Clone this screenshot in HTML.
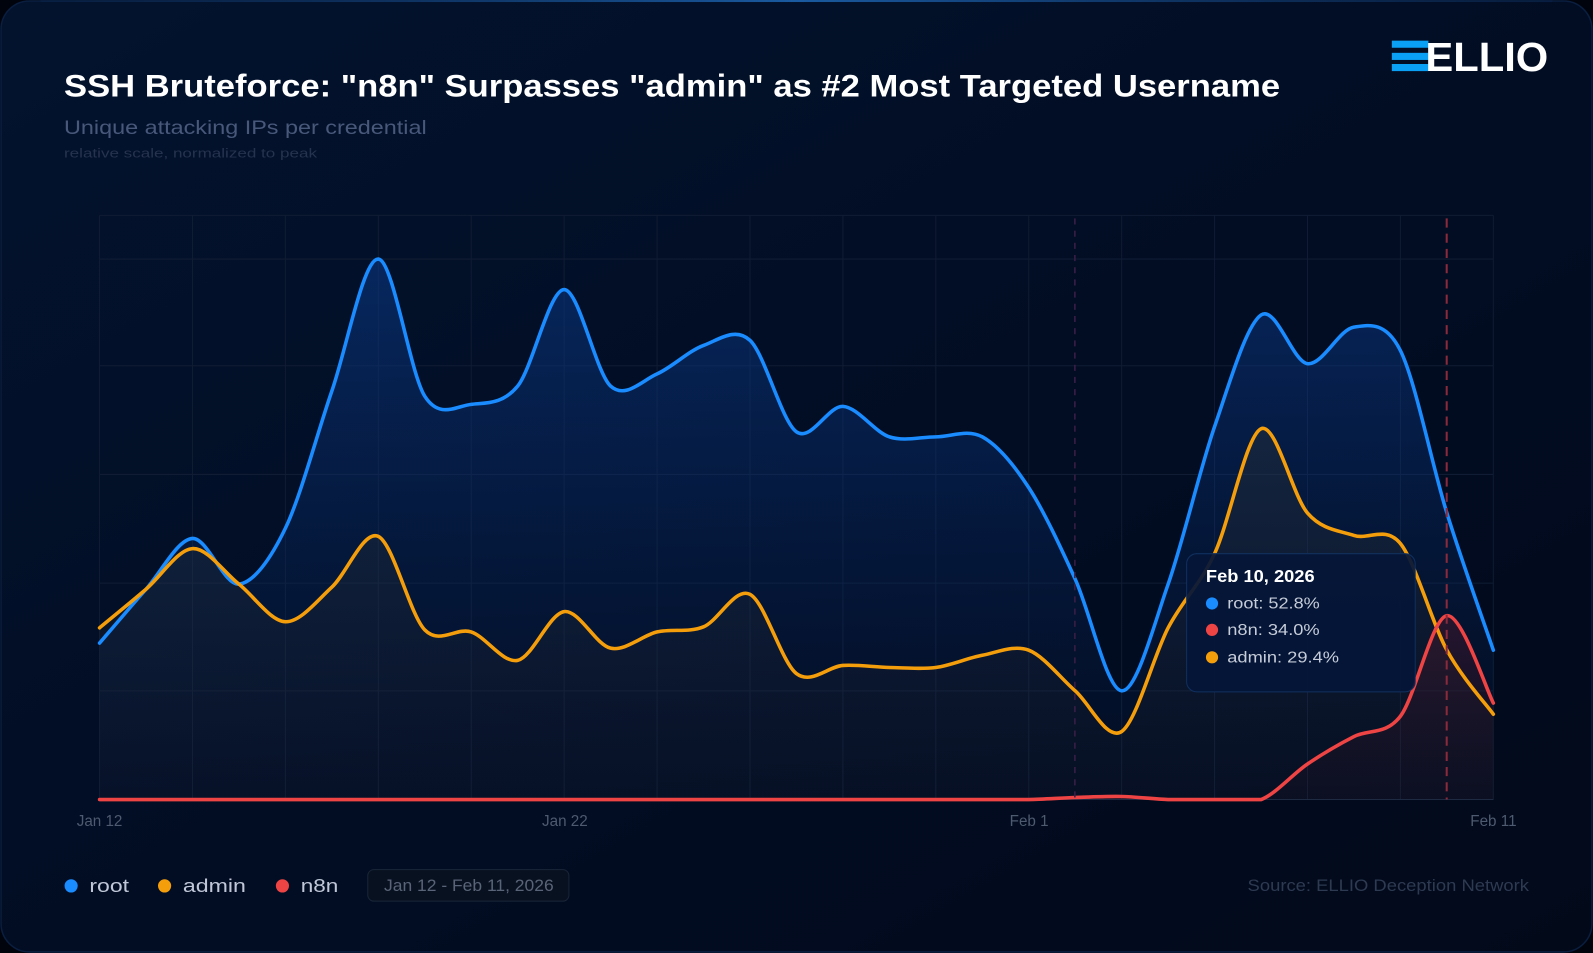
<!DOCTYPE html>
<html><head><meta charset="utf-8"><style>
html,body{margin:0;padding:0;background:#000;width:1593px;height:953px;overflow:hidden}
#w{width:1568px;height:938px;transform:scale(1.01594);transform-origin:0 0}
svg{display:block;font-family:"Liberation Sans",sans-serif}
</style></head><body><div id="w">
<svg id="s" width="1568" height="938" viewBox="0 0 1568 938">
<defs>
<linearGradient id="bg" x1="0" y1="0" x2="1" y2="1">
<stop offset="0" stop-color="#03132e"/><stop offset="0.6" stop-color="#020c22"/><stop offset="1" stop-color="#020a1a"/></linearGradient>
<linearGradient id="top" x1="0" x2="1"><stop offset="0" stop-color="#0a2a55" stop-opacity="0.3"/><stop offset="0.5" stop-color="#1a5aa0"/><stop offset="1" stop-color="#0a2a55" stop-opacity="0.3"/></linearGradient>
<linearGradient id="gr" x1="0" y1="0" x2="0" y2="1"><stop offset="0" stop-color="#0a3a8a" stop-opacity="0.55"/><stop offset="1" stop-color="#0a2a60" stop-opacity="0.05"/></linearGradient>
<linearGradient id="ga" x1="0" y1="0" x2="0" y2="1"><stop offset="0" stop-color="#3a3a30" stop-opacity="0.3"/><stop offset="1" stop-color="#2a2a30" stop-opacity="0.1"/></linearGradient>
<linearGradient id="gn" x1="0" y1="0" x2="0" y2="1"><stop offset="0" stop-color="#5a1a2a" stop-opacity="0.4"/><stop offset="1" stop-color="#3a1020" stop-opacity="0.1"/></linearGradient>
</defs>
<rect x="0" y="0" width="1568" height="938" fill="#01040c"/>
<rect x="1" y="1" width="1566" height="936" rx="28" fill="url(#bg)" stroke="#0a1e40" stroke-width="1.5"/>
<rect x="40" y="0" width="1488" height="2" fill="url(#top)"/>
<text x="63" y="95" fill="#fff" font-size="31" font-weight="bold" textLength="1197" lengthAdjust="spacingAndGlyphs">SSH Bruteforce: "n8n" Surpasses "admin" as #2 Most Targeted Username</text>
<text x="63" y="132" fill="#48587a" font-size="19" textLength="357" lengthAdjust="spacingAndGlyphs">Unique attacking IPs per credential</text>
<text x="63" y="155" fill="#26334f" font-size="13" textLength="249" lengthAdjust="spacingAndGlyphs">relative scale, normalized to peak</text>
<rect x="1370" y="40" width="36" height="7" fill="#0aa0f5"/><rect x="1370" y="52" width="36" height="7" fill="#0aa0f5"/><rect x="1370" y="63" width="36" height="7" fill="#0aa0f5"/>
<text x="1403" y="70" fill="#fff" font-size="40" font-weight="bold" textLength="121" lengthAdjust="spacingAndGlyphs">ELLIO</text>
<g id="grid" stroke="#101c33" stroke-width="1"></g>
<g id="series"></g>
<line x1="1058" y1="215" x2="1058" y2="787" stroke="#3a1f45" stroke-width="1.5" stroke-dasharray="6 6"/>
<line x1="1424" y1="215" x2="1424" y2="787" stroke="#8a2a3a" stroke-width="2" stroke-dasharray="9 6"/>
<g fill="#4e5a70" font-size="15" text-anchor="middle">
<text x="98" y="813">Jan 12</text><text x="556" y="813">Jan 22</text><text x="1013" y="813">Feb 1</text><text x="1470" y="813">Feb 11</text></g>
<rect x="1168" y="545" width="225" height="136" rx="10" fill="#041638" fill-opacity="0.93" stroke="#10305e" stroke-width="1"/>
<text x="1187" y="573" fill="#fff" font-size="17" font-weight="bold" textLength="107" lengthAdjust="spacingAndGlyphs">Feb 10, 2026</text>
<circle cx="1193" cy="594" r="6" fill="#1a8cff"/><text x="1208" y="599" fill="#c6ccd8" font-size="15" textLength="91" lengthAdjust="spacingAndGlyphs">root:  52.8%</text>
<circle cx="1193" cy="620" r="6" fill="#ef4444"/><text x="1208" y="625" fill="#c6ccd8" font-size="15" textLength="91" lengthAdjust="spacingAndGlyphs">n8n:  34.0%</text>
<circle cx="1193" cy="647" r="6" fill="#f59e0b"/><text x="1208" y="652" fill="#c6ccd8" font-size="15" textLength="110" lengthAdjust="spacingAndGlyphs">admin:  29.4%</text>
<circle cx="70" cy="872" r="6.5" fill="#1a8cff"/><text x="88" y="878" fill="#c0c8d8" font-size="18" textLength="39" lengthAdjust="spacingAndGlyphs">root</text>
<circle cx="162" cy="872" r="6.5" fill="#f59e0b"/><text x="180" y="878" fill="#c0c8d8" font-size="18" textLength="62" lengthAdjust="spacingAndGlyphs">admin</text>
<circle cx="278" cy="872" r="6.5" fill="#ef4444"/><text x="296" y="878" fill="#c0c8d8" font-size="18" textLength="37" lengthAdjust="spacingAndGlyphs">n8n</text>
<rect x="362" y="856" width="198" height="31" rx="6" fill="#07111f" stroke="#1a2538"/>
<text x="378" y="877" fill="#5a6478" font-size="16" textLength="167" lengthAdjust="spacingAndGlyphs">Jan 12 - Feb 11, 2026</text>
<text x="1228" y="877" fill="#2e3a52" font-size="16" textLength="277" lengthAdjust="spacingAndGlyphs">Source: ELLIO Deception Network</text>
</svg></div>
<script>
var X0=98,DX=45.73,B=787;
var g=document.getElementById('grid'),h='';
for(var i=0;i<=15;i++){var x=X0+i*2*DX;h+='<line x1="'+x+'" y1="212" x2="'+x+'" y2="787"/>';}
[212,255,360,467,574,680].forEach(function(y){h+='<line x1="98" y1="'+y+'" x2="1470" y2="'+y+'"/>';});
h+='<line x1="98" y1="787" x2="1470" y2="787" stroke="#1c2a44"/>';
g.innerHTML=h;
var root=[633,580,530,575,520,385,255,390,398,380,285,380,368,340,335,425,400,430,430,430,480,570,680,575,420,310,358,322,345,505,640];
var admin=[618,580,540,575,612,578,528,620,622,650,602,638,622,617,585,663,655,657,657,645,640,680,720,618,545,422,505,527,535,640,703];
var n8n=[787,787,787,787,787,787,787,787,787,787,787,787,787,787,787,787,787,787,787,787,787,785,784,787,787,787,752,725,705,606,692];
function path(a){var p=a.map(function(y,i){return [X0+i*DX,y]});var d='M'+p[0][0]+','+p[0][1];
for(var i=0;i<p.length-1;i++){var p0=p[i-1]||p[i],p1=p[i],p2=p[i+1],p3=p[i+2]||p2,t=0.16;
var c1=[p1[0]+(p2[0]-p0[0])*t,p1[1]+(p2[1]-p0[1])*t],c2=[p2[0]-(p3[0]-p1[0])*t,p2[1]-(p3[1]-p1[1])*t];
c1[1]=Math.min(c1[1],B);c2[1]=Math.min(c2[1],B);
d+=' C'+c1[0].toFixed(1)+','+c1[1].toFixed(1)+' '+c2[0].toFixed(1)+','+c2[1].toFixed(1)+' '+p2[0].toFixed(1)+','+p2[1];}
return d;}
var s='',xe=X0+30*DX;
[[root,'#1a8cff','url(#gr)'],[admin,'#f59e0b','url(#ga)'],[n8n,'#ef4444','url(#gn)']].forEach(function(r){var d=path(r[0]);
s+='<path d="'+d+' L'+xe+','+B+' L'+X0+','+B+' Z" fill="'+r[2]+'"/>';});
[[root,'#1a8cff'],[admin,'#f59e0b'],[n8n,'#ef4444']].forEach(function(r){s+='<path d="'+path(r[0])+'" fill="none" stroke="'+r[1]+'" stroke-width="3.5" stroke-linejoin="round" stroke-linecap="round"/>';});
document.getElementById('series').innerHTML=s;
</script>
</body></html>
